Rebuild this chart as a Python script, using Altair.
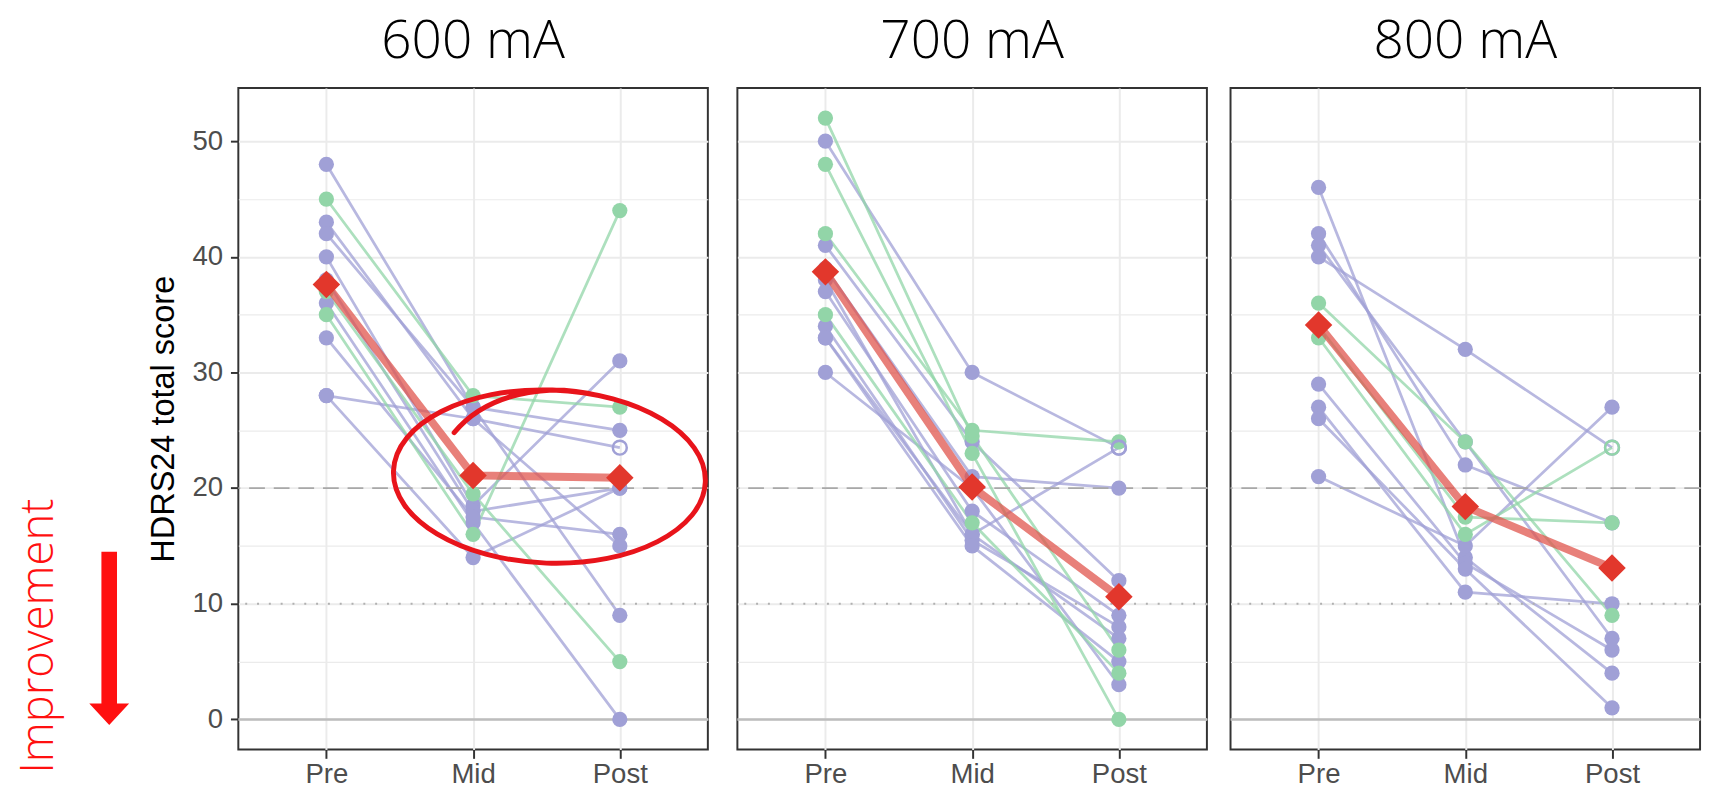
import json
import pandas as pd
import altair as alt

# ---------------- data ----------------
visits = ["Pre", "Mid", "Post"]
panel_names = ["600 mA", "700 mA", "800 mA"]
ref_dashed = [20]
ref_dotted = [10]
ref_solid = [0]

# 600 mA  (G = green group, P = purple group; open = open-circle post value)
g600 = ["P", "P", "P", "P", "P", "P", "P", "P", "P", "G", "G", "G"]
pre600 = [48, 43, 42, 40, 38, 36, 33, 28, 28, 45, 35, 37]
mid600 = [27, 26, 27, 18.5, 18, 17, 17.5, 26, 14, 28, 16, 19.5]
post600 = [25, 23.5, 9, 31, 20, 0, 16, 15, 20, 27, 44, 5]
open600 = [0, 1, 0, 0, 0, 0, 0, 0, 0, 0, 0, 0]
mean600 = [37.6, 21.1, 20.9]

# 700 mA
g700 = ["P", "P", "P", "P", "P", "P", "P", "P", "P", "G", "G", "G", "G"]
pre700 = [50, 41, 39, 38, 37, 34, 33, 33, 30, 52, 48, 42, 35]
mid700 = [30, 24, 21, 16, 18, 15.5, 16, 15, 20, 24.5, 23, 25, 17]
post700 = [23.5, 12, 20, 23.5, 9, 8, 7, 5, 3, 6, 0, 24, 4]
open700 = [1, 0, 0, 1, 0, 0, 0, 0, 0, 0, 0, 0, 0]
mean700 = [38.7, 20.1, 10.6]

# 800 mA
g800 = ["P", "P", "P", "P", "P", "P", "P", "P", "G", "G", "G"]
pre800 = [46, 42, 41, 40, 29, 27, 26, 21, 36, 33, 34]
mid800 = [14, 22, 24, 32, 13.5, 11, 13, 15, 24, 16, 17.5]
post800 = [4, 17, 7, 23.5, 6, 10, 1, 27, 9, 23.5, 17]
open800 = [0, 0, 0, 1, 0, 0, 0, 0, 0, 1, 0]
mean800 = [34.1, 18.4, 13.1]

# annotation anchors (in data units: x = visit index, y = score)
title_anchor = [1.0, 57.2]
ellipse_anchor = [1.52, 21.0]
arrow_anchor = [-1.48, 7.0]
text_anchor = [-1.96, 7.2]
annotation_text = "Improvement"

# ---------------- style ----------------
PURPLE = "#8C8DC8"
GREEN = "#6AC48A"
PURPLE_LINE = "#A0A0D6"
GREEN_LINE = "#92D5A8"
RED = "#E2372C"
MEAN_LINE = "#E0554D"
ANN_RED = "#FF1010"
BORDER = "#333333"
LABEL_FONT = "Liberation Sans"
TITLE_FONT = "Open Sans"
Y_DOMAIN = [-2.6, 54.6]

ELLIPSE_PATH = ("M -0.62 -0.26 Q -0.42 -0.52 0 -0.555 "
                "A 1 0.555 0 0 1 0 0.555 A 1 0.555 0 0 1 0 -0.555 "
                "Q 0.15 -0.56 0.3 -0.53")
ARROW_PATH = ("M -0.09 -1 L 0.09 -1 L 0.09 0.75 L 0.23 0.75 L 0 1 "
              "L -0.23 0.75 L -0.09 0.75 Z")

label_expr = json.dumps(visits) + "[datum.value]"


def make_df(groups, pre, mid, post, opn):
    rows = []
    for i, (g, a, b, c, o) in enumerate(zip(groups, pre, mid, post, opn)):
        for vi, val in enumerate((a, b, c)):
            rows.append(dict(subject=i, group=g, vi=vi, score=val,
                             is_open=bool(o) and vi == 2,
                             gorder=0 if g == "P" else 1))
    return pd.DataFrame(rows).sort_values(["gorder", "subject", "vi"])


def encodings(first):
    x = alt.X("vi:Q",
              scale=alt.Scale(domain=[-0.6, 2.6], nice=False, zero=False),
              axis=alt.Axis(values=[0, 1, 2], labelExpr=label_expr, title=None,
                            grid=True, gridColor="#EBEBEB", gridWidth=2,
                            domain=False, ticks=True, tickColor=BORDER,
                            tickSize=9, tickWidth=2, labelFontSize=28,
                            labelColor="#4D4D4D", labelFont=LABEL_FONT,
                            labelPadding=3, labelFlush=False))
    grid_w = {"condition": {"test": "datum.value % 10 === 0", "value": 2}, "value": 1.2}
    if first:
        yax = alt.Axis(values=list(range(0, 55, 5)),
                       labelExpr="datum.value % 10 === 0 ? datum.label : ''",
                       title="HDRS24 total score", titleFontSize=33,
                       titleFont=LABEL_FONT, titleFontWeight="normal",
                       titleColor="#000000", titlePadding=12,
                       grid=True, gridColor="#EBEBEB", gridWidth=grid_w,
                       domain=False, tickColor=BORDER, tickSize=8, tickWidth=2,
                       tickOpacity={"condition": {"test": "datum.value % 10 === 0", "value": 1}, "value": 0},
                       labelFontSize=28, labelColor="#4D4D4D", labelFont=LABEL_FONT,
                       labelPadding=8)
    else:
        yax = alt.Axis(values=list(range(0, 55, 5)), labels=False, ticks=False,
                       domain=False, title=None, grid=True, gridColor="#EBEBEB",
                       gridWidth=grid_w)
    y = alt.Y("score:Q", scale=alt.Scale(domain=Y_DOMAIN, nice=False, zero=False), axis=yax)
    return x, y


def panel(name, groups, pre, mid, post, opn, means, first):
    df = make_df(groups, pre, mid, post, opn)
    x, y = encodings(first)
    line_color = alt.Color("group:N", scale=alt.Scale(domain=["P", "G"], range=[PURPLE_LINE, GREEN_LINE]), legend=None)
    pt_color = alt.Color("group:N", scale=alt.Scale(domain=["P", "G"], range=[PURPLE, GREEN]), legend=None)

    base = alt.Chart(df)
    lines = base.mark_line(strokeWidth=2.8, opacity=0.75).encode(
        x=x, y=y, detail="subject:N", color=line_color)

    yref = alt.Y("y:Q", scale=alt.Scale(domain=Y_DOMAIN, nice=False, zero=False))
    r0 = alt.Chart(pd.DataFrame({"y": ref_solid})).mark_rule(color="#BDBDBD", strokeWidth=2.5).encode(y=yref)
    r20 = alt.Chart(pd.DataFrame({"y": ref_dashed})).mark_rule(color="#A8A8A8", strokeWidth=2, strokeDash=[16, 9]).encode(y=yref)
    r10 = alt.Chart(pd.DataFrame({"y": ref_dotted})).mark_rule(color="#B0B0B0", strokeWidth=2, strokeDash=[2, 10]).encode(y=yref)

    pts = base.transform_filter("!datum.is_open").mark_circle(size=240, opacity=1).encode(
        x=x, y=y, color=pt_color)
    opts = base.transform_filter("datum.is_open").mark_point(size=200, opacity=1, filled=False, strokeWidth=2.5).encode(
        x=x, y=y, color=pt_color)

    mdf = pd.DataFrame({"vi": [0, 1, 2], "score": means})
    mline = alt.Chart(mdf).mark_line(color=MEAN_LINE, strokeWidth=8, opacity=0.75).encode(x=x, y=y)
    mpts = alt.Chart(mdf).mark_point(shape="diamond", filled=True, size=780, color=RED, opacity=1).encode(x=x, y=y)

    ttl_df = pd.DataFrame({"vi": [title_anchor[0]], "score": [title_anchor[1]], "t": [name]})
    ttl = alt.Chart(ttl_df).mark_text(font=TITLE_FONT, fontWeight=300, fontSize=54, color="#000000",
                                      align="center", baseline="alphabetic").encode(x=x, y=y, text="t:N")

    layers = [lines, r0, r20, r10, pts, opts, mline, mpts, ttl]

    if first:
        edf = pd.DataFrame({"vi": [ellipse_anchor[0]], "score": [ellipse_anchor[1]]})
        ell = alt.Chart(edf).mark_point(shape=ELLIPSE_PATH, size=317 ** 2, filled=False,
                                        stroke="#E8141B", strokeWidth=5, opacity=1,
                                        angle=2, strokeCap="round").encode(x=x, y=y)
        adf = pd.DataFrame({"vi": [arrow_anchor[0]], "score": [arrow_anchor[1]]})
        arr = alt.Chart(adf).mark_point(shape=ARROW_PATH, size=176 ** 2, filled=True,
                                        color=ANN_RED, opacity=1, strokeWidth=0).encode(x=x, y=y)
        tdf = pd.DataFrame({"vi": [text_anchor[0]], "score": [text_anchor[1]], "t": [annotation_text]})
        txt = alt.Chart(tdf).mark_text(angle=270, font=TITLE_FONT, fontWeight=300, fontSize=46,
                                       color=ANN_RED, align="center", baseline="middle").encode(
            x=x, y=y, text="t:N")
        layers += [ell, arr, txt]

    return alt.layer(*layers).properties(
        width=477, height=672,
        view=alt.ViewBackground(stroke=BORDER, strokeWidth=2, fill="white"))


p1 = panel(panel_names[0], g600, pre600, mid600, post600, open600, mean600, True)
p2 = panel(panel_names[1], g700, pre700, mid700, post700, open700, mean700, False)
p3 = panel(panel_names[2], g800, pre800, mid800, post800, open800, mean800, False)

chart = alt.hconcat(p1, p2, p3, spacing=18).properties(
    padding={"left": 7, "top": 0, "right": 0, "bottom": 0}
).configure_view(stroke=BORDER, strokeWidth=2).configure(background="white")

chart.save("out.html", embed_options={"renderer": "svg", "actions": False})
